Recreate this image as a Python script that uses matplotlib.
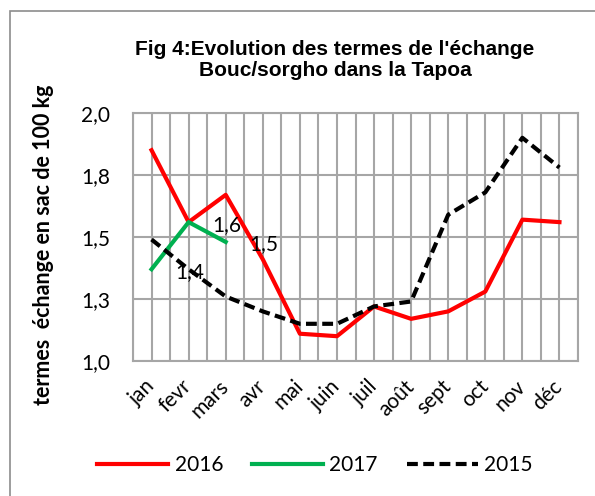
import numpy as np
import matplotlib
matplotlib.use("Agg")
import matplotlib.pyplot as plt
from matplotlib.patches import Rectangle
from matplotlib.ticker import FixedLocator, FuncFormatter

# Data
months = ['jan', 'fevr', 'mars', 'avr', 'mai', 'juin', 'juil', 'août', 'sept', 'oct', 'nov', 'déc']
vals2016 = [1.85, 1.56, 1.67, 1.41, 1.11, 1.10, 1.22, 1.17, 1.20, 1.28, 1.57, 1.56]
vals2017 = [1.37, 1.56, 1.48]
vals2015 = [1.49, 1.37, 1.26, 1.20, 1.15, 1.15, 1.22, 1.24, 1.59, 1.68, 1.90, 1.78]
yticks = [1.0, 1.25, 1.5, 1.75, 2.0]

body = ['Lato', 'DejaVu Sans']
grid_col = '#a6a6a6'
fs = 15

fig = plt.figure(figsize=(5.95, 4.96), dpi=100)
# outer chart frame
fig.patches.append(Rectangle((10 / 595, -0.1), 1.2, 1 - 11 / 496 + 0.1,
                             transform=fig.transFigure, fill=False,
                             edgecolor='#8c8c8c', lw=1.2))

ax = fig.add_axes([133 / 595, 1 - 361 / 496, 445 / 595, 248 / 496])
x = np.arange(len(months))

ax.plot(x, vals2016, color='#ff0000', lw=3, label='2016', zorder=3)
ax.plot(x[:len(vals2017)], vals2017, color='#00b050', lw=3, label='2017', zorder=3)
ax.plot(x, vals2015, color='black', lw=3, ls=(0, (2.6, 1.3)), label='2015', zorder=4)

# data labels of the 2017 series
for i, v in enumerate(vals2017):
    ax.text(i + 1.03, v - 0.01, ('%.1f' % v).replace('.', ','), ha='center', va='center',
            fontsize=fs, family=body, zorder=5)

ax.set_xlim(-0.5, len(months) - 0.5)
ax.set_ylim(1.0, 2.0)
ax.yaxis.set_major_locator(FixedLocator(yticks))
ax.yaxis.set_major_formatter(FuncFormatter(lambda v, p: ('%.1f' % (v + 1e-9)).replace('.', ',')))
ax.set_xticks(x)
ax.set_xticks(np.arange(-0.5, len(months)), minor=True)
ax.set_xticklabels(months, rotation=45, ha='right', va='center', rotation_mode='anchor',
                   fontsize=fs, family=body)
for lab in ax.get_yticklabels():
    lab.set_fontsize(fs)
    lab.set_family(body)
ax.tick_params(axis='both', which='both', length=0)
ax.tick_params(axis='y', pad=16.5)
ax.tick_params(axis='x', pad=16)

ax.grid(True, which='major', color=grid_col, lw=1.5)
ax.grid(True, which='minor', axis='x', color=grid_col, lw=1.5)
ax.set_axisbelow(True)
for s in ax.spines.values():
    s.set_color(grid_col)
    s.set_linewidth(1.5)

fig.text(43 / 595, 1 - 245 / 496, 'termes  échange en sac de 100 kg', rotation=90,
         ha='center', va='center', fontsize=15.5, fontweight='bold', family=body)

fig.text(335 / 595, 1 - 60 / 496, "Fig 4:Evolution des termes de l'échange\nBouc/sorgho dans la Tapoa",
         ha='center', va='center', fontsize=15, fontweight='bold', family=['Liberation Sans', 'DejaVu Sans'],
         linespacing=1.1)

fig.legend(loc='center', bbox_to_anchor=(315 / 595, 1 - 465 / 496), ncol=3, frameon=False,
           prop={'family': body, 'size': fs}, handlelength=3.4, handletextpad=0.3, columnspacing=1.4)

fig.savefig('out.png', dpi=100)
